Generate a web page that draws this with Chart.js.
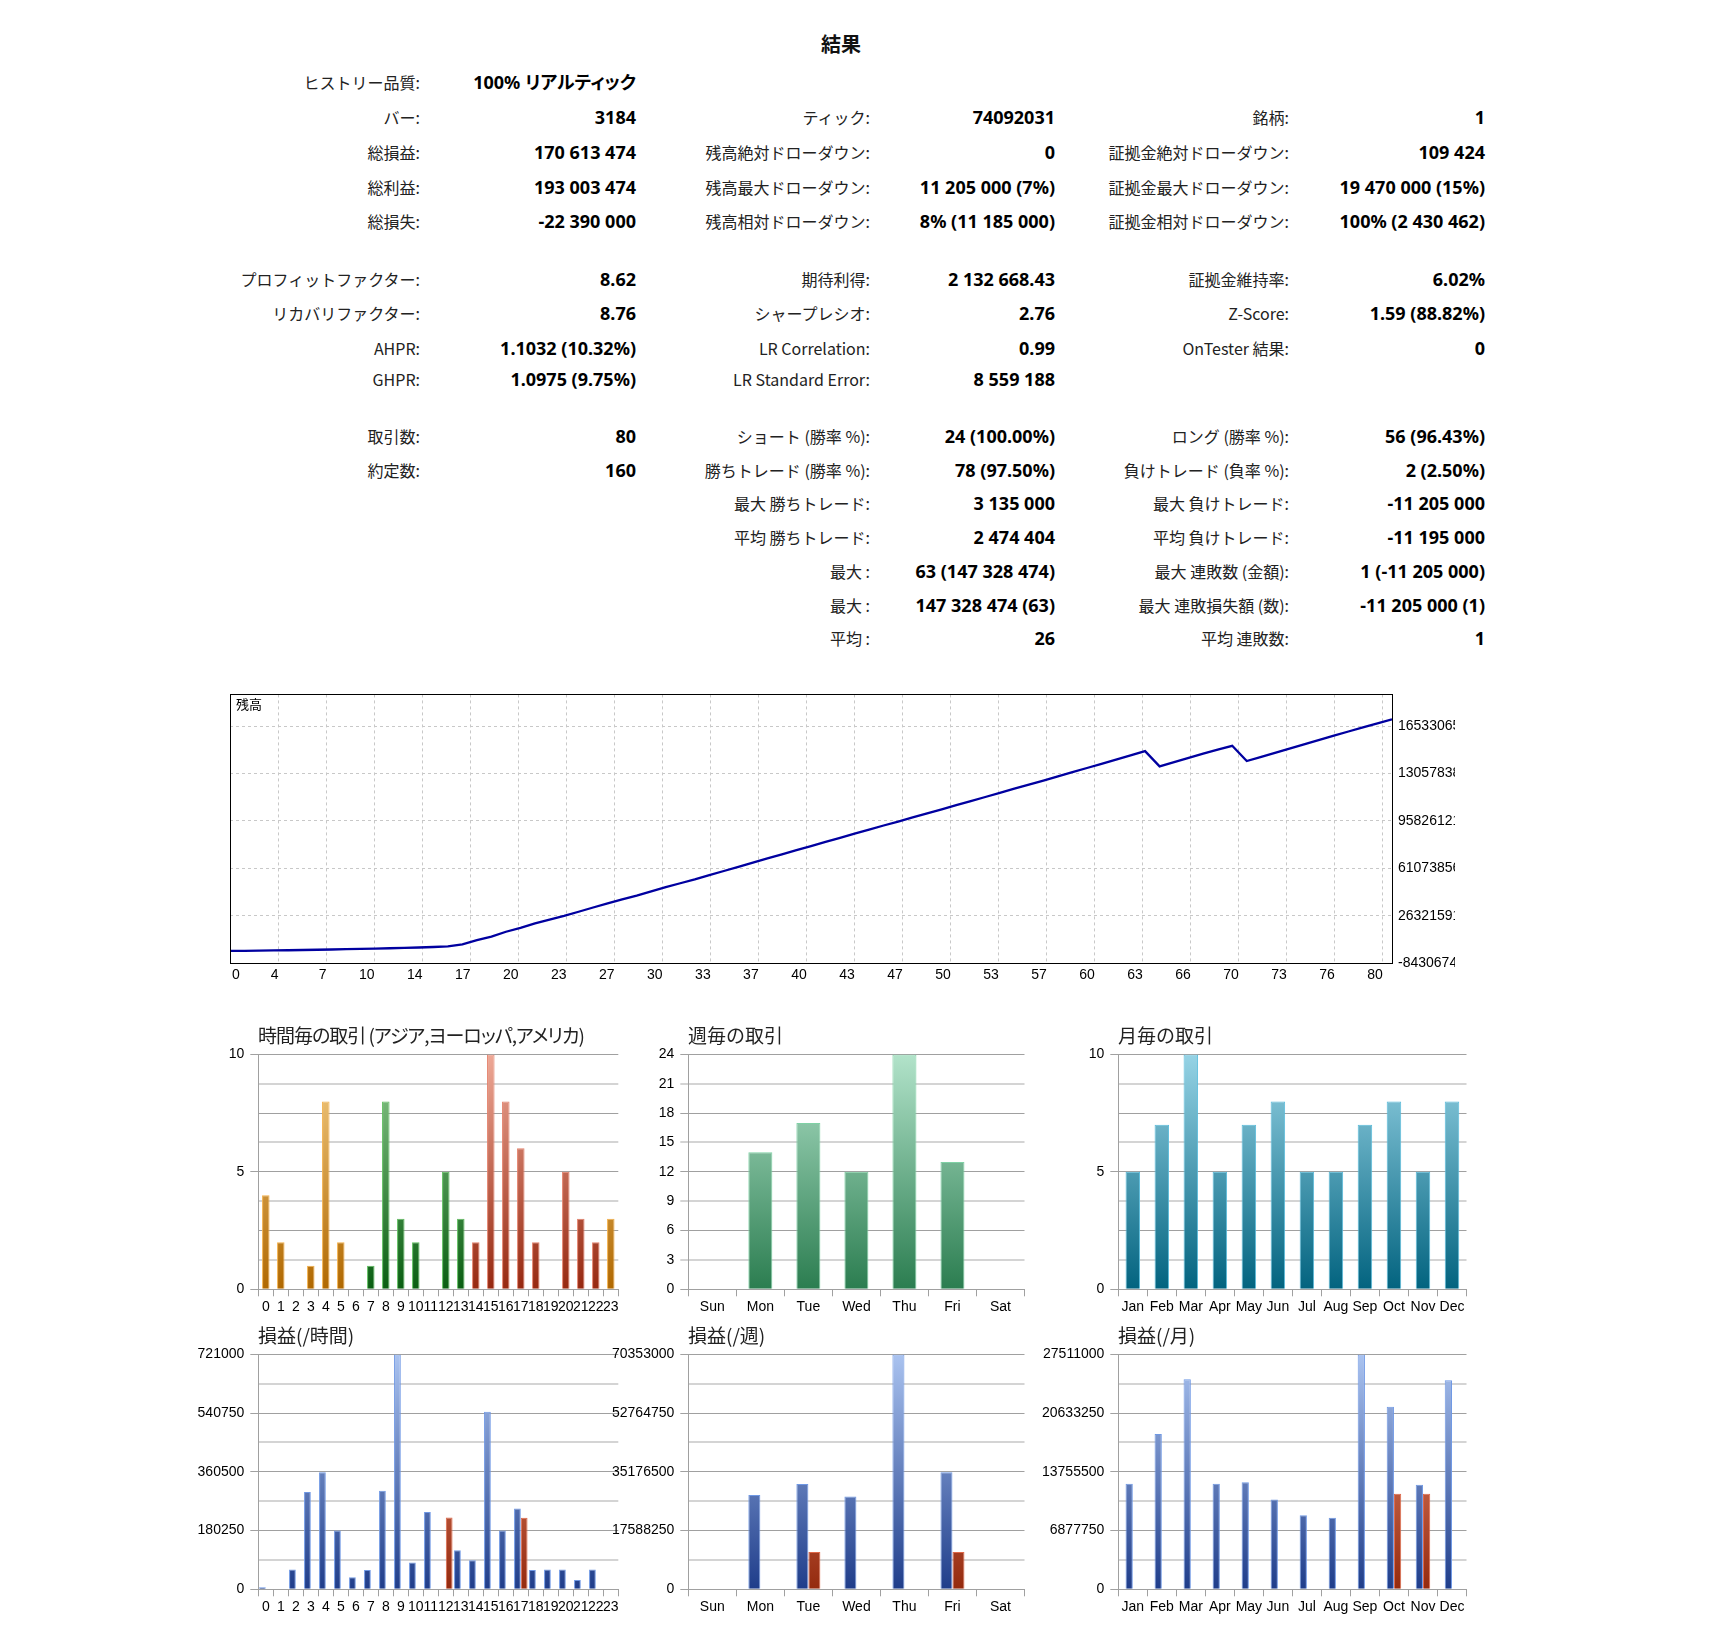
<!DOCTYPE html>
<html><head><meta charset="utf-8">
<script src="https://cdn.jsdelivr.net/npm/chart.js@4.4.1/dist/chart.umd.min.js"></script>
<style>
html,body{margin:0;padding:0;background:#fff;}
body{width:1712px;height:1644px;position:relative;overflow:hidden;}
.wrap{position:absolute;}
.lbl{position:absolute;font-family:"Noto Sans CJK JP","Noto Sans",sans-serif;font-size:16px;color:#222;text-align:right;white-space:nowrap;line-height:20px;width:400px;}
.val{position:absolute;font-family:"Noto Sans","Noto Sans CJK JP",sans-serif;font-weight:bold;font-size:18px;color:#000;text-align:right;white-space:nowrap;line-height:20px;width:400px;font-feature-settings:"palt";}
.ttl{position:absolute;font-family:"Noto Sans CJK JP",sans-serif;font-size:19px;color:#222;white-space:nowrap;line-height:22px;}
.ttl.narrow{font-feature-settings:"palt";letter-spacing:-1px;}
</style></head><body>
<div id="stats"></div>
<div class="ttl" style="left:821px;top:33px;font-size:20px;font-weight:bold;color:#111;">結果</div>

<div class="wrap" id="balWrap"><canvas id="bal"></canvas></div>
<div class="ttl" style="left:236px;top:696px;font-size:13px;line-height:16px;color:#000;">残高</div>

<div class="wrap" id="w1"><canvas></canvas></div>
<div class="wrap" id="w2"><canvas></canvas></div>
<div class="wrap" id="w3"><canvas></canvas></div>
<div class="wrap" id="w4"><canvas></canvas></div>
<div class="wrap" id="w5"><canvas></canvas></div>
<div class="wrap" id="w6"><canvas></canvas></div>
<div id="titles"></div>

<script>
// ---------------- data ----------------
const statCol1 = [
  ['ヒストリー品質:', '100% リアルティック'],
  ['バー:', '3184'],
  ['総損益:', '170 613 474'],
  ['総利益:', '193 003 474'],
  ['総損失:', '-22 390 000'],
  ['プロフィットファクター:', '8.62'],
  ['リカバリファクター:', '8.76'],
  ['AHPR:', '1.1032 (10.32%)'],
  ['GHPR:', '1.0975 (9.75%)'],
  ['取引数:', '80'],
  ['約定数:', '160'],
  null, null, null, null, null
];
const statCol2 = [
  null,
  ['ティック:', '74092031'],
  ['残高絶対ドローダウン:', '0'],
  ['残高最大ドローダウン:', '11 205 000 (7%)'],
  ['残高相対ドローダウン:', '8% (11 185 000)'],
  ['期待利得:', '2 132 668.43'],
  ['シャープレシオ:', '2.76'],
  ['LR Correlation:', '0.99'],
  ['LR Standard Error:', '8 559 188'],
  ['ショート (勝率 %):', '24 (100.00%)'],
  ['勝ちトレード (勝率 %):', '78 (97.50%)'],
  ['最大 勝ちトレード:', '3 135 000'],
  ['平均 勝ちトレード:', '2 474 404'],
  ['最大 :', '63 (147 328 474)'],
  ['最大 :', '147 328 474 (63)'],
  ['平均 :', '26']
];
const statCol3 = [
  null,
  ['銘柄:', '1'],
  ['証拠金絶対ドローダウン:', '109 424'],
  ['証拠金最大ドローダウン:', '19 470 000 (15%)'],
  ['証拠金相対ドローダウン:', '100% (2 430 462)'],
  ['証拠金維持率:', '6.02%'],
  ['Z-Score:', '1.59 (88.82%)'],
  ['OnTester 結果:', '0'],
  null,
  ['ロング (勝率 %):', '56 (96.43%)'],
  ['負けトレード (負率 %):', '2 (2.50%)'],
  ['最大 負けトレード:', '-11 205 000'],
  ['平均 負けトレード:', '-11 195 000'],
  ['最大 連敗数 (金額):', '1 (-11 205 000)'],
  ['最大 連敗損失額 (数):', '-11 205 000 (1)'],
  ['平均 連敗数:', '1']
];

const balance = [
  400000, 520000, 640000, 780000, 930000, 1100000, 1280000, 1470000, 1680000, 1900000,
  2130000, 2380000, 2650000, 2950000, 3300000, 3800000, 5300000, 8300000, 11000000, 14500000,
  17400000, 20600000, 23400000, 26100000, 29200000, 32300000, 35400000, 38300000, 41100000, 44200000,
  47200000, 50100000, 52900000, 56000000, 59100000, 62200000, 65300000, 68300000, 71300000, 74400000,
  77400000, 80400000, 83400000, 86500000, 89500000, 92500000, 95400000, 98400000, 101400000, 104400000,
  107400000, 110400000, 113400000, 116500000, 119500000, 122500000, 125500000, 128600000, 131700000, 134700000,
  137800000, 140900000, 144000000, 147100000, 135900000, 139000000, 142100000, 145200000, 148200000, 151000000,
  139800000, 142900000, 146000000, 149100000, 152200000, 155300000, 158400000, 161500000, 164500000, 167500000,
  170400000
];
const balanceXLabels = ['0','4','7','10','14','17','20','23','27','30','33','37','40','43','47','50','53','57','60','63','66','70','73','76','80'];
const balanceXStep = 3.3058;
const balanceYTicks = [-8430674, 26321591, 61073856, 95826121, 130578386, 165330651];
const balanceYMax = 188720000;

const hours = ['0','1','2','3','4','5','6','7','8','9','10','11','12','13','14','15','16','17','18','19','20','21','22','23'];
const hourTrades = [4,2,0,1,8,2,0,1,8,3,2,0,5,3,2,10,8,6,2,0,5,3,2,3];
const hourSession = ['asia','asia','asia','asia','asia','asia','asia','europe','europe','europe','europe','europe','europe','europe',
  'america','america','america','america','america','america','america','america','america','asia'];
const hourProfit = [310000,100000,3110000,15200000,18310000,9180000,1870000,3010000,15400000,36721000,4200000,12080000,0,
  6120000,4560000,27750000,9180000,12650000,3010000,3110000,3110000,1450000,3110000,0];
const hourLoss = [0,0,0,0,0,0,0,0,0,0,0,0,11205000,0,0,0,0,11185000,0,0,0,0,0,0];

const days = ['Sun','Mon','Tue','Wed','Thu','Fri','Sat'];
const dayTrades = [0,14,17,12,24,13,0];
const dayProfit = [0,28250000,31550000,27800000,70353000,35050000,0];
const dayLoss = [0,0,11205000,0,0,11185000,0];

const months = ['Jan','Feb','Mar','Apr','May','Jun','Jul','Aug','Sep','Oct','Nov','Dec'];
const monthTrades = [5,7,10,5,7,8,5,5,7,8,5,8];
const monthProfit = [12357000,18185000,24597000,12357000,12551000,10530000,8665000,8393000,27511000,21372000,12240000,24480000];
const monthLoss = [0,0,0,0,0,0,0,0,0,11205000,11185000,0];

const countMax = [10, 24, 10];
const countStep = [1.25, 3, 1.25];
const plMax = [36721000, 70353000, 27511000];

const chartTitles = ['時間毎の取引 (アジア,ヨーロッパ,アメリカ)', '週毎の取引', '月毎の取引', '損益(/時間)', '損益(/週)', '損益(/月)'];

// ---------------- layout ----------------
const statRowY = [83,118,153,188,222,280,314,349,380,437,471,504,538,572,606,639];
const statLabelRight = [420, 870, 1289];
const statValueRight = [636, 1055, 1485];
const COLS = [{L:197, W:429, pl:258.3, pr:618.3}, {L:604, W:430, pl:688.3, pr:1024.5}, {L:1034, W:440, pl:1118.3, pr:1466.5}];
const ROWS = [{T:1040, H:290, pt:1053.3, pb:1289.3, ty:1036}, {T:1340, H:290, pt:1353.3, pb:1589.3, ty:1336}];

// ---------------- stats table ----------------
const stats = document.getElementById('stats');
[statCol1, statCol2, statCol3].forEach((col, ci) => {
  col.forEach((row, ri) => {
    if (!row) return;
    const y = statRowY[ri] - 11;
    const l = document.createElement('div');
    l.className = 'lbl'; l.textContent = row[0];
    l.style.left = (statLabelRight[ci] - 400) + 'px'; l.style.top = y + 'px';
    stats.appendChild(l);
    const v = document.createElement('div');
    v.className = 'val'; v.textContent = row[1];
    v.style.left = (statValueRight[ci] - 400) + 'px'; v.style.top = y + 'px';
    stats.appendChild(v);
  });
});

// titles
const tdiv = document.getElementById('titles');
chartTitles.forEach((t, i) => {
  const d = document.createElement('div');
  d.className = 'ttl' + (i === 0 ? ' narrow' : ''); d.textContent = t;
  d.style.left = Math.round(COLS[i % 3].pl) + 'px';
  d.style.top = (ROWS[Math.floor(i / 3)].ty - 12) + 'px';
  tdiv.appendChild(d);
});

// ---------------- balance chart ----------------
const balWrap = document.getElementById('balWrap');
Object.assign(balWrap.style, {left:'200px', top:'680px', width:'1255px', height:'310px'});
const balanceDecor = {
  id: 'balanceDecor',
  afterDraw(chart) {
    const {ctx, chartArea: a} = chart;
    const x = chart.scales.x;
    ctx.save();
    ctx.strokeStyle = '#000'; ctx.lineWidth = 1; ctx.setLineDash([]);
    ctx.strokeRect(Math.round(a.left) + 0.5, Math.round(a.top) + 0.5, Math.round(a.right) - Math.round(a.left), Math.round(a.bottom) - Math.round(a.top));
    ctx.fillStyle = '#000';
    ctx.font = '14px "Liberation Sans", Arial, sans-serif';
    ctx.textBaseline = 'middle';
    x.ticks.forEach((t, k) => {
      const px = x.getPixelForValue(t.value);
      if (k === 0) { ctx.textAlign = 'left'; ctx.fillText(balanceXLabels[k], px + 2, a.bottom + 12); }
      else { ctx.textAlign = 'right'; ctx.fillText(balanceXLabels[k], px + 0.5, a.bottom + 12); }
    });
    ctx.restore();
  }
};
new Chart(document.getElementById('bal'), {
  type: 'line',
  data: { datasets: [{ data: balance.map((v, i) => ({x: i, y: v})), borderColor: '#0000a0', borderWidth: 2.3,
    pointRadius: 0, tension: 0, fill: false }] },
  options: {
    responsive: true, maintainAspectRatio: false, animation: false,
    layout: { padding: { left: 30, top: 11, right: 0, bottom: 0 } },
    plugins: { legend: { display: false }, tooltip: { enabled: false } },
    scales: {
      x: { type: 'linear', min: 0, max: 80,
        afterBuildTicks(s) { s.ticks = balanceXLabels.map((l, k) => ({ value: k * balanceXStep })); },
        ticks: { display: false },
        grid: { color: '#c8c8c8', lineWidth: 1, drawTicks: false, borderDash: [3, 3] },
        border: { display: false, dash: [3, 3] },
        afterFit(s) { s.height = 27; } },
      y: { type: 'linear', position: 'right', min: balanceYTicks[0], max: balanceYMax,
        afterBuildTicks(s) { s.ticks = balanceYTicks.map(v => ({ value: v })); },
        ticks: { color: '#000', padding: 6, font: { family: 'Liberation Sans', size: 14 }, callback: v => String(Math.round(v)) },
        grid: { color: '#c8c8c8', lineWidth: 1, drawTicks: false, borderDash: [3, 3] },
        border: { display: false, dash: [3, 3] },
        afterFit(s) { s.width = 63; } }
    }
  },
  plugins: [balanceDecor]
});

// ---------------- bar charts ----------------
const PAL = {
  asia:    { top: '#f6cf88', bot: '#b06800', border: '#f3b04a' },
  europe:  { top: '#8fcc8f', bot: '#0a5e12', border: '#5dbd5d' },
  america: { top: '#eea896', bot: '#962810', border: '#e4806a' },
  week:    { top: '#b2e3ca', bot: '#2b7d50', border: '#7fd1a5' },
  month:   { top: '#96d3e5', bot: '#02637f', border: '#58bcdc' },
  plus:    { top: '#aac3f0', bot: '#1f3d8a', border: '#6f98e4' },
  minus:   { top: '#f79c82', bot: '#942a0e', border: '#e06848' }
};
function vGrad(context, p) {
  const ch = context.chart, a = ch.chartArea;
  if (!a) return p.bot;
  const g = ch.ctx.createLinearGradient(0, a.top, 0, a.bottom);
  g.addColorStop(0, p.top); g.addColorStop(1, p.bot);
  return g;
}
const AXIS_DARK = '#a0a0a0', AXIS_LIGHT = '#d4d4d4';
const tickFont = { family: 'Liberation Sans', size: 14 };

function makeBar(id, col, row, labels, datasets, yMax, yStep, labelEvery, tickEvery, catPct) {
  const c = COLS[col], r = ROWS[row];
  const wrap = document.getElementById(id);
  Object.assign(wrap.style, { left: c.L + 'px', top: r.T + 'px', width: c.W + 'px', height: r.H + 'px' });
  return new Chart(wrap.querySelector('canvas'), {
    type: 'bar',
    data: { labels, datasets: datasets.map(d => Object.assign({ barPercentage: 1, categoryPercentage: catPct, borderWidth: 1 }, d)) },
    options: {
      responsive: true, maintainAspectRatio: false, animation: false,
      layout: { padding: { left: 0, top: r.pt - r.T, right: c.L + c.W - c.pr, bottom: 0 } },
      plugins: { legend: { display: false }, tooltip: { enabled: false } },
      scales: {
        x: { type: 'category', offset: true,
          grid: { display: true, offset: true, drawOnChartArea: false, drawTicks: true, tickLength: 7, color: AXIS_DARK, lineWidth: 1 },
          border: { display: true, color: AXIS_DARK, width: 1 },
          ticks: { autoSkip: false, maxRotation: 0, minRotation: 0, padding: 2, color: '#000', font: tickFont },
          afterFit(s) { s.height = r.T + r.H - r.pb; } },
        y: { min: 0, max: yMax,
          ticks: { stepSize: yStep, padding: 6, color: '#000', font: tickFont,
            callback: (v, i) => (i % labelEvery === 0 ? String(v) : '') },
          grid: { color: ctx => (ctx.index % 2 === 0 ? AXIS_DARK : AXIS_LIGHT),
            lineWidth: ctx => (ctx.index % 2 === 0 ? 1 : 2),
            tickLength: 8,
            tickColor: ctx => (ctx.index % tickEvery === 0 ? (ctx.index % 2 === 0 ? AXIS_DARK : AXIS_LIGHT) : 'rgba(0,0,0,0)'),
            tickWidth: ctx => (ctx.index % 2 === 0 ? 1 : 2) },
          border: { display: true, color: AXIS_DARK, width: 1 },
          afterFit(s) { s.width = c.pl - c.L; } }
      }
    }
  });
}

makeBar('w1', 0, 0, hours, [{ data: hourTrades,
  backgroundColor: ctx => vGrad(ctx, PAL[hourSession[ctx.dataIndex]]),
  borderColor: ctx => PAL[hourSession[ctx.dataIndex]].border }], countMax[0], countStep[0], 4, 4, 0.5);
makeBar('w2', 1, 0, days, [{ data: dayTrades,
  backgroundColor: ctx => vGrad(ctx, PAL.week), borderColor: PAL.week.border }], countMax[1], countStep[1], 1, 1, 0.5);
makeBar('w3', 2, 0, months, [{ data: monthTrades,
  backgroundColor: ctx => vGrad(ctx, PAL.month), borderColor: PAL.month.border }], countMax[2], countStep[2], 4, 4, 0.5);

function plSets(profit, loss) {
  return [
    { data: profit, backgroundColor: ctx => vGrad(ctx, PAL.plus), borderColor: PAL.plus.border },
    { data: loss, backgroundColor: ctx => vGrad(ctx, PAL.minus), borderColor: PAL.minus.border }
  ];
}
makeBar('w4', 0, 1, hours, plSets(hourProfit, hourLoss), plMax[0], plMax[0] / 8, 2, 2, 0.9);
makeBar('w5', 1, 1, days, plSets(dayProfit, dayLoss), plMax[1], plMax[1] / 8, 2, 2, 0.5);
makeBar('w6', 2, 1, months, plSets(monthProfit, monthLoss), plMax[2], plMax[2] / 8, 2, 2, 0.5);
</script>
</body></html>
